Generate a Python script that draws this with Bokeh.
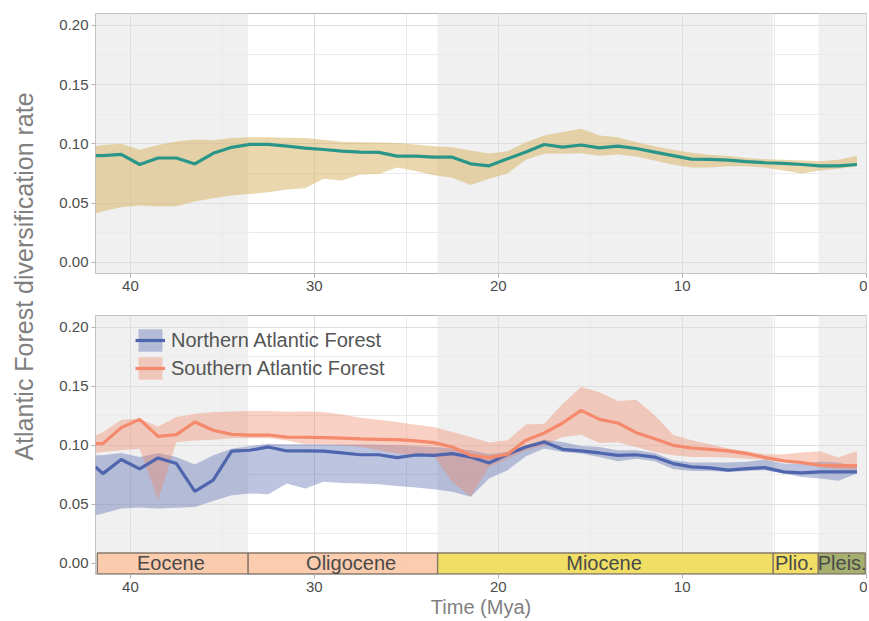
import math
from bokeh.plotting import figure
from bokeh.models import Range1d, FixedTicker, Legend, LegendItem, BoxAnnotation, NumeralTickFormatter
from bokeh.layouts import row, column
from bokeh.embed import file_html
from bokeh.resources import INLINE
from bokeh.core.properties import value

# ---------------- data ----------------
time_mya = [41.9, 41.5, 40.5, 39.5, 38.5, 37.5, 36.5, 35.5, 34.5, 33.5, 32.5,
            31.5, 30.5, 29.5, 28.5, 27.5, 26.5, 25.5, 24.5, 23.5, 22.5, 21.5,
            20.5, 19.5, 18.5, 17.5, 16.5, 15.5, 14.5, 13.5, 12.5, 11.5, 10.5,
            9.5, 8.5, 7.5, 6.5, 5.5, 4.5, 3.5, 2.5, 1.5, 0.5]

af_mean = [0.090, 0.090, 0.091, 0.0825, 0.088, 0.088, 0.083, 0.092, 0.097, 0.0995, 0.0995,
           0.098, 0.0963, 0.0952, 0.0938, 0.093, 0.0927, 0.0896, 0.0896, 0.0887, 0.0887, 0.0831,
           0.0814, 0.0873, 0.093, 0.0994, 0.0972, 0.099, 0.0966, 0.098, 0.096, 0.093, 0.090,
           0.087, 0.0868, 0.0862, 0.085, 0.084, 0.0834, 0.0825, 0.0814, 0.0814, 0.0825]
af_low = [0.041, 0.043, 0.0465, 0.048, 0.047, 0.0473, 0.0513, 0.054, 0.0563, 0.0577, 0.059,
          0.0615, 0.0625, 0.0704, 0.069, 0.074, 0.0746, 0.080, 0.077, 0.0735, 0.0713, 0.0653,
          0.0704, 0.075, 0.0865, 0.0915, 0.0915, 0.092, 0.090, 0.091, 0.0893, 0.0859, 0.0823,
          0.080, 0.080, 0.081, 0.081, 0.080, 0.0775, 0.075, 0.0775, 0.079, 0.081]
af_high = [0.098, 0.099, 0.100, 0.095, 0.099, 0.102, 0.1037, 0.103, 0.1048, 0.1056, 0.1056,
           0.105, 0.1048, 0.1034, 0.1017, 0.1014, 0.101, 0.1006, 0.0994, 0.098, 0.097, 0.0944,
           0.0918, 0.0938, 0.1014, 0.107, 0.110, 0.1127, 0.107, 0.1056, 0.1014, 0.098, 0.095,
           0.0924, 0.0907, 0.0896, 0.088, 0.087, 0.0865, 0.0859, 0.0853, 0.0865, 0.090]

north_mean = [0.0817, 0.076, 0.088, 0.080, 0.0893, 0.0845, 0.061, 0.0704, 0.095, 0.0958, 0.0986,
              0.0952, 0.0952, 0.095, 0.0935, 0.092, 0.092, 0.0896, 0.0918, 0.0915, 0.093, 0.090,
              0.085, 0.0924, 0.0986, 0.1028, 0.0966, 0.0952, 0.0935, 0.0915, 0.092, 0.090, 0.0845,
              0.0817, 0.0808, 0.0789, 0.0803, 0.0811, 0.0775, 0.0766, 0.0775, 0.0775, 0.0775]
north_low = [0.0408, 0.0423, 0.0465, 0.0473, 0.0465, 0.047, 0.0477, 0.0527, 0.0577, 0.0592, 0.0586,
             0.0676, 0.0634, 0.069, 0.068, 0.0676, 0.067, 0.0656, 0.0642, 0.0628, 0.0606, 0.0563,
             0.0718, 0.0789, 0.0907, 0.0972, 0.0944, 0.093, 0.090, 0.0865, 0.0887, 0.0865, 0.080,
             0.0783, 0.0783, 0.0775, 0.0783, 0.0789, 0.076, 0.0732, 0.0718, 0.0699, 0.076]
north_high = [0.0915, 0.0915, 0.0935, 0.090, 0.0935, 0.090, 0.0837, 0.0915, 0.097, 0.0994, 0.1014,
              0.1008, 0.1008, 0.1008, 0.1006, 0.1006, 0.1005, 0.100, 0.0995, 0.0986, 0.0972, 0.0958,
              0.0924, 0.0944, 0.100, 0.1048, 0.1028, 0.0994, 0.0986, 0.0958, 0.0958, 0.0935, 0.0873,
              0.0854, 0.0854, 0.0854, 0.086, 0.0879, 0.0845, 0.0845, 0.086, 0.0854, 0.0817]

south_mean = [0.1014, 0.1014, 0.115, 0.122, 0.1076, 0.109, 0.1197, 0.1127, 0.1093, 0.1087, 0.1087,
              0.107, 0.1068, 0.1065, 0.106, 0.1054, 0.1051, 0.1048, 0.1037, 0.1023, 0.0986, 0.0915,
              0.0896, 0.0924, 0.1042, 0.1104, 0.1189, 0.1296, 0.122, 0.1189, 0.1107, 0.1056, 0.100,
              0.0977, 0.0966, 0.0952, 0.093, 0.0896, 0.0868, 0.0854, 0.0831, 0.0825, 0.0828]
south_low = [0.0935, 0.0944, 0.0958, 0.097, 0.0535, 0.1028, 0.104, 0.1048, 0.106, 0.106, 0.106,
             0.104, 0.1008, 0.1008, 0.100, 0.0986, 0.0958, 0.093, 0.0915, 0.091, 0.069, 0.0563,
             0.0817, 0.0887, 0.0958, 0.100, 0.107, 0.109, 0.102, 0.1025, 0.0986, 0.0944, 0.0915,
             0.090, 0.090, 0.0896, 0.0885, 0.088, 0.086, 0.0835, 0.0815, 0.080, 0.079]
south_high = [0.1085, 0.111, 0.1217, 0.1225, 0.116, 0.124, 0.1268, 0.128, 0.1287, 0.129, 0.129,
              0.1285, 0.1287, 0.1283, 0.126, 0.1234, 0.1217, 0.1197, 0.1175, 0.1155, 0.1113, 0.107,
              0.1023, 0.1042, 0.1177, 0.1183, 0.1352, 0.1493, 0.145, 0.1375, 0.1386, 0.1254, 0.109,
              0.1042, 0.1008, 0.0972, 0.095, 0.0924, 0.0924, 0.0938, 0.095, 0.0896, 0.0952]

epoch_names = ["Eocene", "Oligocene", "Miocene", "Plio.", "Pleis."]
epoch_start = [41.8, 33.6, 23.3, 5.05, 2.6]
epoch_end = [33.6, 23.3, 5.05, 2.6, 0.05]
epoch_label_x = [37.8, 28.0, 14.25, 3.9, 1.3]
epoch_colors = ["#FCC7A5", "#FCC7A5", "#EFDC55", "#EFDC55", "#9CA85F"]

band_left = [41.9, 23.3, 2.6]
band_right = [33.6, 5.05, -0.05]

x_ticks = [0, 10, 20, 30, 40]
x_minor = [5, 15, 25, 35]
y_ticks = [0.0, 0.05, 0.10, 0.15, 0.20]
y_minor = [0.025, 0.075, 0.125, 0.175]

# ---------------- style ----------------
FONT = "Liberation Sans"
TICK_COL = "#4D4D4D"
TITLE_COL = "#7F7F7F"
LAB_W = 45
MAIN_W = 822
TOP_H = 301
BOT_H = 319
TOTAL_H = TOP_H + BOT_H


def make_panel(height, b_top, b_bottom):
    p = figure(width=MAIN_W, height=height,
               x_range=Range1d(41.9, -0.02), y_range=Range1d(-0.0095, 0.21),
               toolbar_location=None, output_backend="svg",
               min_border_left=50, min_border_right=1,
               min_border_top=b_top, min_border_bottom=b_bottom)
    p.background_fill_color = "white"
    p.border_fill_color = "white"
    p.outline_line_color = "#B3B3B3"
    p.outline_line_width = 1
    p.xaxis.ticker = FixedTicker(ticks=x_ticks, minor_ticks=x_minor)
    p.yaxis.ticker = FixedTicker(ticks=y_ticks, minor_ticks=y_minor)
    p.yaxis.formatter = NumeralTickFormatter(format="0.00")
    for ax in (p.xaxis, p.yaxis):
        ax.axis_line_color = None
        ax.major_tick_line_color = "#B3B3B3"
        ax.major_tick_out = 4
        ax.major_tick_in = 0
        ax.minor_tick_line_color = None
        ax.major_label_text_font = FONT
        ax.major_label_text_font_size = "15px"
        ax.major_label_text_color = TICK_COL
        ax.major_label_standoff = 3
    for g in (p.xgrid, p.ygrid):
        g.grid_line_color = "#DEDEDE"
        g.grid_line_width = 1
        g.minor_grid_line_color = "#EBEBEB"
        g.minor_grid_line_width = 1
    for l, r in zip(band_left, band_right):
        p.add_layout(BoxAnnotation(left=l, right=r, fill_color="#F0F0F0", fill_alpha=1,
                                   line_color=None, level="image"))
    return p


# top panel
top = make_panel(TOP_H, 13, 28)
top.varea(x=time_mya, y1=af_low, y2=af_high, fill_color="#D8B76A", fill_alpha=0.55)
top.line(x=time_mya, y=af_mean, line_color="#2A968A", line_width=3.2)

# bottom panel
bot = make_panel(BOT_H, 14, 40)
nb = bot.varea(x=time_mya, y1=north_low, y2=north_high, fill_color="#4F65AE", fill_alpha=0.38)
sb = bot.varea(x=time_mya, y1=south_low, y2=south_high, fill_color="#EE8A6C", fill_alpha=0.40)
nl = bot.line(x=time_mya, y=north_mean, line_color="#4F65AE", line_width=3.2)
sl = bot.line(x=time_mya, y=south_mean, line_color="#F4896B", line_width=3.2)

GEO_BOTTOM, GEO_TOP = -0.009, 0.0087
bot.quad(left=epoch_start, right=epoch_end, bottom=GEO_BOTTOM, top=GEO_TOP,
         fill_color=epoch_colors, fill_alpha=0.9, line_color="#85786A", line_width=1.3)
bot.text(x=epoch_label_x, y=[0.0] * len(epoch_names), text=epoch_names,
         text_font=value(FONT), text_font_size="20px", text_color="#4A4A4A",
         text_align="center", text_baseline="middle")

bot.xaxis.axis_label = "Time (Mya)"
bot.xaxis.axis_label_text_font = FONT
bot.xaxis.axis_label_text_font_size = "20px"
bot.xaxis.axis_label_text_font_style = "normal"
bot.xaxis.axis_label_text_color = TITLE_COL
bot.xaxis.axis_label_standoff = 1

legend = Legend(items=[LegendItem(label="Northern Atlantic Forest", renderers=[nb, nl]),
                       LegendItem(label="Southern Atlantic Forest", renderers=[sb, sl])],
                location=(40, 192))
legend.label_text_font = FONT
legend.label_text_font_size = "20px"
legend.label_text_color = "#555555"
legend.glyph_width = 30
legend.glyph_height = 28
legend.label_height = 28
legend.label_standoff = 6
legend.spacing = 0
legend.padding = 0
legend.margin = 0
legend.background_fill_alpha = 0
legend.border_line_alpha = 0
bot.add_layout(legend)

# shared y-axis title
lab = figure(width=LAB_W, height=TOTAL_H, x_range=Range1d(0, 1), y_range=Range1d(0, TOTAL_H),
             toolbar_location=None, output_backend="svg",
             x_axis_type=None, y_axis_type=None, min_border=0)
lab.outline_line_color = None
lab.grid.visible = False
lab.text(x=[0.53], y=[TOTAL_H - 276], text=["Atlantic Forest diversification rate"], angle=math.pi / 2,
         text_font=value(FONT), text_font_size="25px", text_color=TITLE_COL,
         text_align="center", text_baseline="middle")

layout = row(lab, column(top, bot))
open("out.html", "w").write(file_html(layout, INLINE))
